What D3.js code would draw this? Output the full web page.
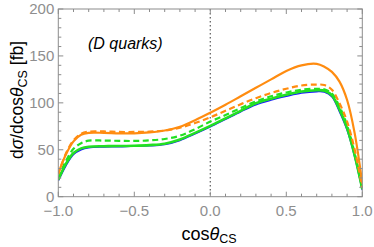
<!DOCTYPE html>
<html><head><meta charset="utf-8">
<script src="https://cdn.jsdelivr.net/npm/d3@7"></script>
<style>body{margin:0;background:#fff}svg{display:block}</style>
</head><body>
<svg id="c" width="374" height="247"></svg>
<script>
const xs = [-1,-0.95,-0.9,-0.85,-0.8,-0.7,-0.6,-0.5,-0.4,-0.3,-0.2,-0.1,0,0.1,0.2,0.3,0.4,0.5,0.6,0.7,0.75,0.8,0.85,0.9,0.95,1];
const orangeSolid  = [25,45,59,66,68,68,67.5,67.5,68.5,70.5,74.5,81.5,89.5,98,107,116,125,134,140,141.5,138.5,133,122.6,103,67.5,14];
const orangeDashed = [24,46,60,67,69.3,69.5,69,69,69.3,70.5,73.5,78.5,84.6,91.5,98.5,105,110.5,115,118.5,119.5,119,114,99.5,80,50,10];
const greenDashed  = [20,38,51,57,59.7,59.8,59.5,59.4,60,61.5,65,72,80,87,94.5,101.5,107,111,114,115,114.4,110,96,76,46,9];
const greenSolid   = [18,35,46.5,51.5,53.3,53.8,54,54.3,55,56.5,61,68,75.5,83.5,91.5,99.5,104.5,108.7,112,113.5,113,108,93,73,44,8];
const blueSolid    = [17,33,45,50,52.2,53,53.3,54,54.3,55.6,60,67,74.5,82.5,90.5,98,103,107,110.5,112,111.6,106.5,90.6,71,42.6,7];
const xTicks = [-1,-0.5,0,0.5,1];
const yTicks = [0,50,100,150,200];

const svg = d3.select("#c");
const L=58.3,R=362.3,T=9,B=196.7;
const x = d3.scaleLinear().domain([-1,1]).range([L,R]);
const y = d3.scaleLinear().domain([0,200]).range([B,T]);
const frameCol="#8c8c8c", labCol="#8e8e8e";

const g = svg.append("g");
g.append("line").attr("x1",x(0)).attr("x2",x(0)).attr("y1",T).attr("y2",B)
 .attr("stroke","#666").attr("stroke-width",1.3).attr("stroke-dasharray","1.6,2.4");

const line = d3.line().x((d,i)=>x(xs[i])).y(d=>y(d)).curve(d3.curveCatmullRom.alpha(0.5));
svg.append("clipPath").attr("id","cp").append("rect").attr("x",L).attr("y",T).attr("width",R-L).attr("height",B-T);
const series = [
 {d:blueSolid,c:"#1a1aff",w:1.6,dash:null},
 {d:greenSolid,c:"#22e022",w:2.6,dash:null},
 {d:greenDashed,c:"#22e022",w:2.2,dash:"6,3.5"},
 {d:orangeDashed,c:"#ff8c10",w:2.2,dash:"6,3.5"},
 {d:orangeSolid,c:"#ff8c10",w:2.2,dash:null}
];
const lg = svg.append("g").attr("clip-path","url(#cp)");
series.forEach(s=>{
 lg.append("path").attr("d",line(s.d)).attr("fill","none").attr("stroke",s.c)
  .attr("stroke-width",s.w).attr("stroke-dasharray",s.dash).attr("stroke-linejoin","round");
});

svg.append("rect").attr("x",L).attr("y",T).attr("width",R-L).attr("height",B-T)
 .attr("fill","none").attr("stroke",frameCol).attr("stroke-width",1);
d3.range(-1,1.0001,0.1).forEach(v=>{
 const major = xTicks.some(t=>Math.abs(t-v)<1e-6);
 const len = major?5:3;
 svg.append("line").attr("x1",x(v)).attr("x2",x(v)).attr("y1",B).attr("y2",B-len).attr("stroke",frameCol);
 svg.append("line").attr("x1",x(v)).attr("x2",x(v)).attr("y1",T).attr("y2",T+len).attr("stroke",frameCol);
});
d3.range(0,201,10).forEach(v=>{
 const major = yTicks.includes(v);
 const len = major?5:3;
 svg.append("line").attr("x1",L).attr("x2",L+len).attr("y1",y(v)).attr("y2",y(v)).attr("stroke",frameCol);
 svg.append("line").attr("x1",R).attr("x2",R-len).attr("y1",y(v)).attr("y2",y(v)).attr("stroke",frameCol);
});
const font="Liberation Sans, Arial, sans-serif";
xTicks.forEach(v=>{
 svg.append("text").attr("x",x(v)).attr("y",216).attr("text-anchor","middle")
  .attr("font-family",font).attr("font-size",15).attr("fill",labCol)
  .text(v<0?"\u2212"+Math.abs(v).toFixed(1):v.toFixed(1));
});
yTicks.forEach(v=>{
 svg.append("text").attr("x",L-4).attr("y",y(v)+5.3).attr("text-anchor","end")
  .attr("font-family",font).attr("font-size",15).attr("fill",labCol).text(v);
});
svg.append("text").attr("x",88).attr("y",49).attr("font-family",font).attr("font-size",16)
 .attr("font-style","italic").attr("fill","#000").text("(D quarks)");
const xl = svg.append("text").attr("x",209).attr("y",239.5).attr("text-anchor","middle")
 .attr("font-family",font).attr("font-size",18).attr("fill","#000");
xl.append("tspan").text("cos");
xl.append("tspan").attr("font-style","italic").text("\u03b8");
xl.append("tspan").attr("font-size",12.5).attr("dy",3).text("CS");
const yl = svg.append("text").attr("transform","translate(23,100) rotate(-90)")
 .attr("text-anchor","middle").attr("font-family",font).attr("font-size",17.5).attr("fill","#000");
yl.append("tspan").text("d");
yl.append("tspan").attr("font-style","italic").text("\u03c3");
yl.append("tspan").text("/dcos");
yl.append("tspan").attr("font-style","italic").text("\u03b8");
yl.append("tspan").attr("font-size",12.5).attr("dy",4).text("CS");
yl.append("tspan").attr("dy",-4).text(" [fb]");
</script>
</body></html>
